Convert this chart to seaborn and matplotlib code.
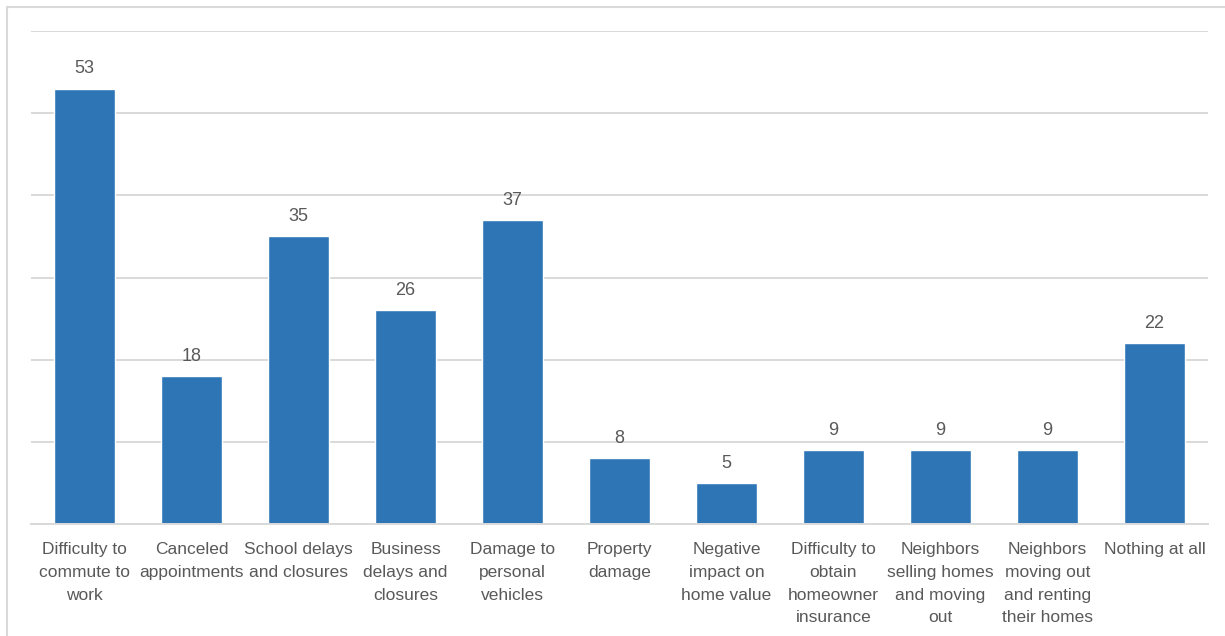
import numpy as np
import pandas as pd
import matplotlib.pyplot as plt
import seaborn as sns
from matplotlib.lines import Line2D

# Survey responses: impacts experienced
categories = [
    "Difficulty to\ncommute to\nwork",
    "Canceled\nappointments",
    "School delays\nand closures",
    "Business\ndelays and\nclosures",
    "Damage to\npersonal\nvehicles",
    "Property\ndamage",
    "Negative\nimpact on\nhome value",
    "Difficulty to\nobtain\nhomeowner\ninsurance",
    "Neighbors\nselling homes\nand moving\nout",
    "Neighbors\nmoving out\nand renting\ntheir homes",
    "Nothing at all",
]
values = [53, 18, 35, 26, 37, 8, 5, 9, 9, 9, 22]

df = pd.DataFrame({"impact": categories, "count": values})

sns.set_style("white")
plt.rcParams['font.family'] = ['Liberation Sans', 'DejaVu Sans']

text_color = "#595959"
grid_color = "#d9d9d9"
bar_color = "#2e75b6"

fig = plt.figure(figsize=(12.25, 6.36), dpi=100)
ax = fig.add_axes([31 / 1225, 112 / 636, 1177 / 1225, 493 / 636])

sns.barplot(data=df, x="impact", y="count", color=bar_color, width=0.57,
            saturation=1, ax=ax)

ax.set_ylim(0, 60)
ax.set_xlim(-0.5, len(categories) - 0.5)
ax.set_yticks(np.arange(0, 61, 10))
ax.yaxis.grid(True, color=grid_color, linewidth=1.4)
ax.set_axisbelow(True)
ax.set_yticklabels([])
ax.tick_params(axis="y", length=0)

for s in ["top", "right", "left"]:
    ax.spines[s].set_visible(False)
ax.spines["bottom"].set_color(grid_color)
ax.spines["bottom"].set_linewidth(1.4)

# category labels, boundary tick marks
ax.tick_params(axis="x", which="major", length=0, pad=13,
               labelsize=12.5, labelcolor=text_color)
for lbl in ax.get_xticklabels():
    lbl.set_linespacing(1.65)
    lbl.set_verticalalignment("top")
ax.set_xticks(np.arange(-0.5, len(categories), 1), minor=True)
ax.tick_params(axis="x", which="minor", length=5, width=1.4, color=grid_color)

ax.set_xlabel("")
ax.set_ylabel("")

ax.bar_label(ax.containers[0], padding=8, fontsize=13, color=text_color)

# thin frame on the left and top like the original export
fig.add_artist(Line2D([7 / 1225, 7 / 1225], [0, 629 / 636],
                      transform=fig.transFigure, color=grid_color, linewidth=1.5))
fig.add_artist(Line2D([7 / 1225, 1], [629 / 636, 629 / 636],
                      transform=fig.transFigure, color=grid_color, linewidth=1.5))

fig.savefig("out.png", dpi=100)
plt.close(fig)
